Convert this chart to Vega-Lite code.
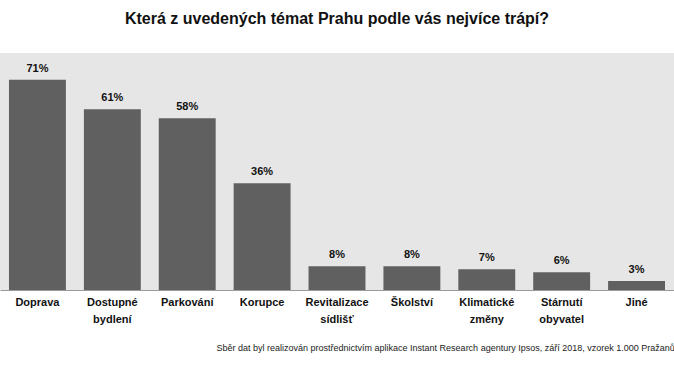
{
  "$schema": "https://vega.github.io/schema/vega-lite/v6.json",
  "width": 674,
  "height": 237,
  "autosize": "none",
  "padding": {"top": 53, "left": 0, "right": 0, "bottom": 90},
  "background": "white",
  "title": {
    "text": "Která z uvedených témat Prahu podle vás nejvíce trápí?",
    "font": "Liberation Sans, Arial",
    "fontSize": 16,
    "fontWeight": "bold",
    "color": "#111111",
    "anchor": "middle",
    "offset": 26
  },
  "data": {
    "values": [
      {"tema": "Doprava", "podil": 0.71},
      {"tema": "Dostupné|bydlení", "podil": 0.61},
      {"tema": "Parkování", "podil": 0.58},
      {"tema": "Korupce", "podil": 0.36},
      {"tema": "Revitalizace|sídlišť", "podil": 0.08},
      {"tema": "Školství", "podil": 0.08},
      {"tema": "Klimatické|změny", "podil": 0.07},
      {"tema": "Stárnutí|obyvatel", "podil": 0.06},
      {"tema": "Jiné", "podil": 0.03}
    ]
  },
  "encoding": {
    "x": {
      "field": "tema",
      "type": "nominal",
      "sort": null,
      "scale": {"paddingInner": 0.24, "paddingOuter": 0.12},
      "axis": {
        "labelAngle": 0,
        "labelExpr": "split(datum.label, '|')",
        "labelFont": "Liberation Sans, Arial",
        "labelFontSize": 11,
        "labelFontWeight": "bold",
        "labelColor": "#111111",
        "labelPadding": 6,
        "labelLineHeight": 17,
        "ticks": false,
        "domain": true,
        "domainColor": "#9a9a9a",
        "domainWidth": 1,
        "title": "Sběr dat byl realizován prostřednictvím aplikace Instant Research agentury Ipsos, září 2018, vzorek 1.000 Pražanů",
        "titleFont": "Liberation Sans, Arial",
        "titleFontSize": 9,
        "titleFontWeight": "normal",
        "titleColor": "#222222",
        "titleAlign": "left",
        "titleAnchor": "start",
        "titleX": 216,
        "titleY": 57,
        "titleBaseline": "middle"
      }
    },
    "y": {
      "field": "podil",
      "type": "quantitative",
      "scale": {"domain": [0, 0.8]},
      "axis": null
    }
  },
  "layer": [
    {"mark": {"type": "bar", "color": "#606060"}},
    {
      "mark": {
        "type": "text",
        "baseline": "bottom",
        "dy": -6,
        "font": "Liberation Sans, Arial",
        "fontSize": 11,
        "fontWeight": "bold",
        "color": "#111111"
      },
      "encoding": {"text": {"field": "podil", "type": "quantitative", "format": ".0%"}}
    }
  ],
  "config": {
    "view": {"fill": "#e6e6e6", "stroke": null}
  }
}
